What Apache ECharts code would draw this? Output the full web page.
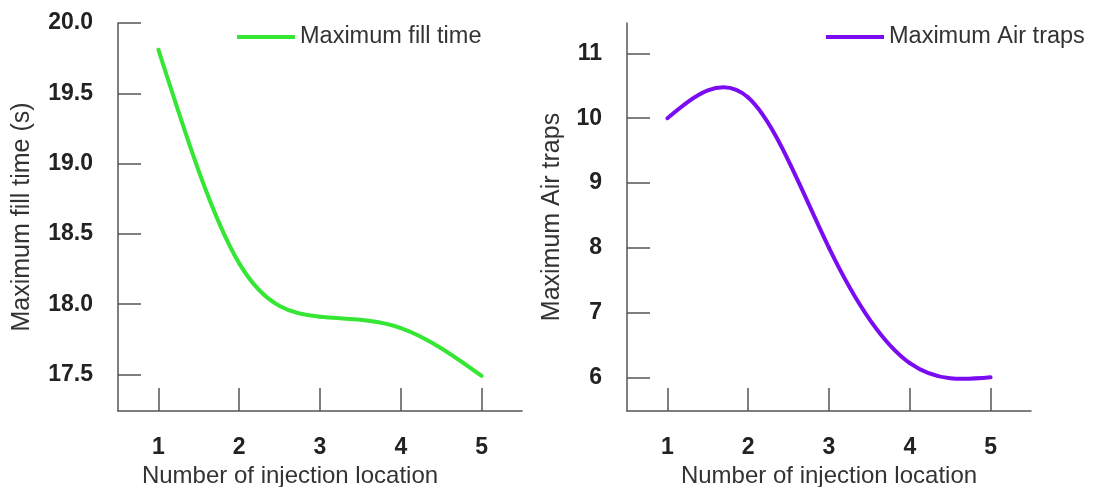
<!DOCTYPE html>
<html>
<head>
<meta charset="utf-8">
<script src="https://cdn.jsdelivr.net/npm/echarts@6/dist/echarts.min.js"></script>
<style>
html,body{margin:0;padding:0;background:#fff;}
#chart{width:1093px;height:487px;}
</style>
</head>
<body>
<div id="chart"></div>
<script>
// ---- data ----
var locations = [1, 2, 3, 4, 5];
var fillTime = [19.81, 18.29, 17.91, 17.83, 17.49];
var airTraps = [10.0, 10.32, 8.0, 6.22, 6.0];
var fillTicks = [17.5, 18.0, 18.5, 19.0, 19.5, 20.0];
var airTicks = [6, 7, 8, 9, 10, 11];
var xTicks = [1, 2, 3, 4, 5];
var fillName = 'Maximum fill time';
var airName = 'Maximum Air traps';
var xName = 'Number of injection location';
var fillYName = 'Maximum fill time (s)';
var airYName = 'Maximum Air traps';

var FONT = 'Liberation Sans, Arial, sans-serif';
var AXIS_COLOR = '#555';
var TEXT = '#222';

// natural cubic spline slopes (drawing style of the original smoothed line)
function splineSlopes(xs, ys) {
  var n = xs.length, h = [], i;
  for (i = 0; i < n - 1; i++) h.push(xs[i + 1] - xs[i]);
  var a = [], b = [], c = [], d = [];
  for (i = 0; i < n; i++) {
    if (i === 0 || i === n - 1) { a.push(0); b.push(1); c.push(0); d.push(0); }
    else {
      a.push(h[i - 1]); b.push(2 * (h[i - 1] + h[i])); c.push(h[i]);
      d.push(6 * ((ys[i + 1] - ys[i]) / h[i] - (ys[i] - ys[i - 1]) / h[i - 1]));
    }
  }
  for (i = 1; i < n; i++) { var m = a[i] / b[i - 1]; b[i] -= m * c[i - 1]; d[i] -= m * d[i - 1]; }
  var M = new Array(n);
  M[n - 1] = d[n - 1] / b[n - 1];
  for (i = n - 2; i >= 0; i--) M[i] = (d[i] - c[i] * M[i + 1]) / b[i];
  var s = [];
  for (i = 0; i < n - 1; i++) s.push((ys[i + 1] - ys[i]) / h[i] - h[i] * (2 * M[i] + M[i + 1]) / 6);
  s.push((ys[n - 1] - ys[n - 2]) / h[n - 2] + h[n - 2] * (M[n - 2] + 2 * M[n - 1]) / 6);
  return s;
}

function splineSeries(name, xs, ys, color, xi, yi) {
  var slopes = splineSlopes(xs, ys);
  return {
    name: name, type: 'custom', xAxisIndex: xi, yAxisIndex: yi,
    data: xs.map(function (x, i) { return [x, ys[i]]; }),
    encode: { x: 0, y: 1 },
    itemStyle: { color: color },
    renderItem: function (params, api) {
      var i = params.dataIndex;
      if (i >= xs.length - 1) return null;
      var hx = xs[i + 1] - xs[i];
      var p0 = api.coord([xs[i], ys[i]]);
      var p3 = api.coord([xs[i + 1], ys[i + 1]]);
      var p1 = api.coord([xs[i] + hx / 3, ys[i] + slopes[i] * hx / 3]);
      var p2 = api.coord([xs[i + 1] - hx / 3, ys[i + 1] - slopes[i + 1] * hx / 3]);
      return {
        type: 'bezierCurve',
        shape: { x1: p0[0], y1: p0[1], cpx1: p1[0], cpy1: p1[1], cpx2: p2[0], cpy2: p2[1], x2: p3[0], y2: p3[1] },
        style: { stroke: color, fill: null, lineWidth: 4, lineCap: 'round' }
      };
    }
  };
}

function xAxisCfg(gridIndex, pad) {
  return {
    type: 'value', gridIndex: gridIndex, min: 0.5, max: 5.5, interval: 0.5,
    axisLine: { lineStyle: { color: AXIS_COLOR, width: 1.5 } },
    axisTick: { show: true, inside: true, length: 23, customValues: xTicks, lineStyle: { color: AXIS_COLOR, width: 1.5 } },
    axisLabel: { customValues: xTicks, margin: 25, color: TEXT, fontWeight: 'bold', fontSize: 23, fontFamily: FONT },
    splitLine: { show: false },
    name: xName, nameLocation: 'middle', nameGap: 52,
    nameTextStyle: { color: '#333', fontSize: 24, fontFamily: FONT, padding: pad }
  };
}
function yAxisCfg(gridIndex, min, max, ticks, name, gap, digits) {
  return {
    type: 'value', gridIndex: gridIndex, min: min, max: max,
    axisLine: { show: true, lineStyle: { color: AXIS_COLOR, width: 1.5 } },
    axisTick: { show: true, inside: true, length: 23, customValues: ticks, lineStyle: { color: AXIS_COLOR, width: 1.5 } },
    axisLabel: { customValues: ticks, margin: 25, color: TEXT, fontWeight: 'bold', fontSize: 23, fontFamily: FONT,
      formatter: function (v) { return v.toFixed(digits); } },
    splitLine: { show: false },
    name: name, nameLocation: 'middle', nameRotate: 90, nameGap: gap,
    nameTextStyle: { color: '#333', fontSize: 25, fontFamily: FONT }
  };
}

var chart = echarts.init(document.getElementById('chart'), null, { renderer: 'canvas' });
chart.setOption({
  backgroundColor: '#fff',
  animation: false,
  grid: [
    { left: 118, top: 23, width: 404, bottom: 76, containLabel: false, outerBoundsMode: 'none' },
    { left: 627, top: 23, width: 404, bottom: 76, containLabel: false, outerBoundsMode: 'none' }
  ],
  legend: [
    { data: [fillName], left: 237, top: 25, padding: 0, itemWidth: 58, itemHeight: 4, icon: 'rect', itemGap: 5,
      textStyle: { color: '#333', fontSize: 23.5, fontFamily: FONT } },
    { data: [airName], left: 826, top: 25, padding: 0, itemWidth: 58, itemHeight: 4, icon: 'rect', itemGap: 5,
      textStyle: { color: '#333', fontSize: 23.5, fontFamily: FONT } }
  ],
  xAxis: [xAxisCfg(0, [0, 60, 0, 0]), xAxisCfg(1, [0, 0, 0, 0])],
  yAxis: [
    yAxisCfg(0, 17.24, 20, fillTicks, fillYName, 83, 1),
    yAxisCfg(1, 5.48, 11.47, airTicks, airYName, 62, 0)
  ],
  series: [
    splineSeries(fillName, locations, fillTime, '#35e635', 0, 0),
    splineSeries(airName, locations, airTraps, '#7a0cf2', 1, 1)
  ]
});
</script>
</body>
</html>
